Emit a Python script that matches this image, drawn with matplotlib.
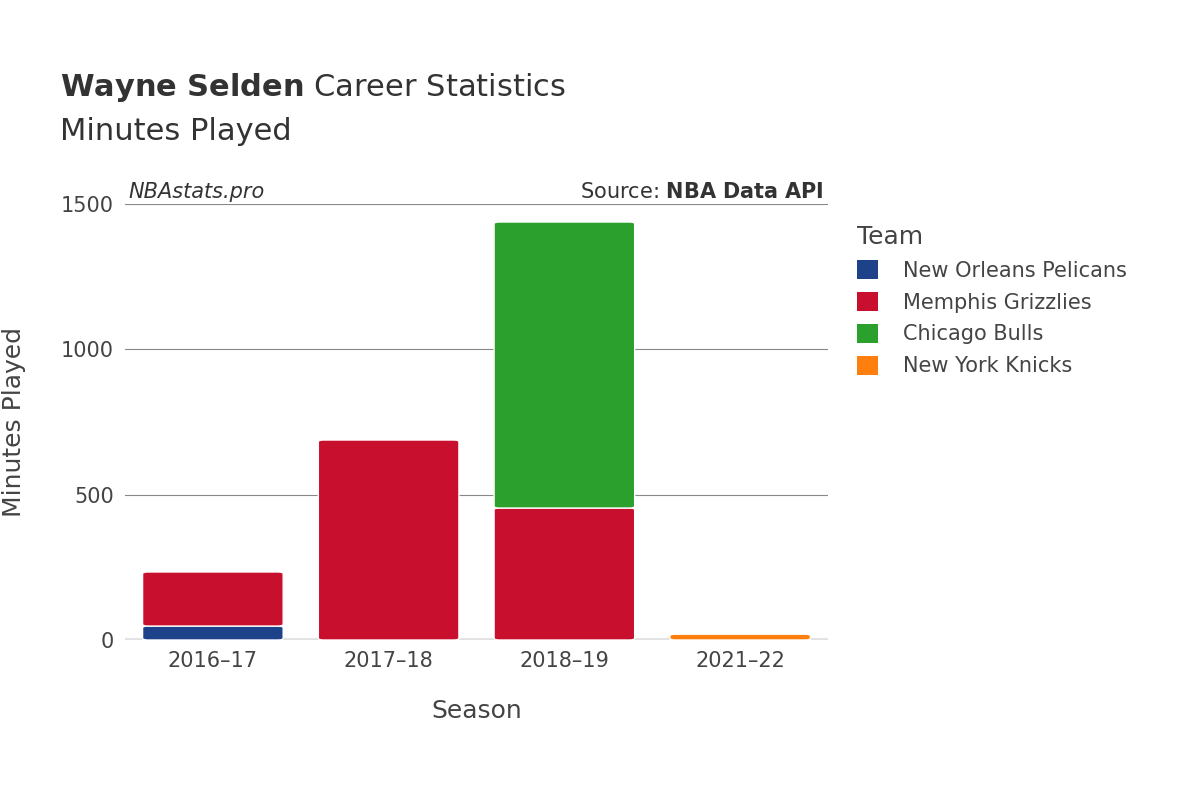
import matplotlib
matplotlib.use("Agg")
import matplotlib.pyplot as plt
from matplotlib.patches import FancyBboxPatch
import numpy as np

seasons = ["2016–17", "2017–18", "2018–19", "2021–22"]
teams = ["New Orleans Pelicans", "Memphis Grizzlies", "Chicago Bulls", "New York Knicks"]
colors = ["#1d428a", "#c8102e", "#2ca02c", "#ff7f0e"]
pelicans = [48, 0, 0, 0]
grizzlies = [186, 688, 454, 0]
bulls = [0, 0, 984, 0]
knicks = [0, 0, 0, 20]
series = [pelicans, grizzlies, bulls, knicks]

fig = plt.figure(figsize=(12, 8), dpi=100)
ax = fig.add_axes([125/1200, 1-640/800, 703/1200, 436/800])
x = np.arange(len(seasons))
bottom = np.zeros(len(seasons))
for name, vals, c in zip(teams, series, colors):
    v = np.array(vals, dtype=float)
    for i in range(len(seasons)):
        if v[i] > 0:
            ax.add_patch(FancyBboxPatch((x[i]-0.4, bottom[i]), 0.8, v[i],
                         boxstyle="round,pad=0,rounding_size=0.03",
                         mutation_aspect=200, fc=c, ec="white", lw=1))
    ax.bar(x, 0, color=c, label=name)
    bottom += v
ax.set_xlim(-0.5, 3.5)
ax.set_ylim(0, 1500)
ax.set_yticks([0, 500, 1000, 1500])
ax.set_xticks(x)
ax.set_xticklabels(seasons)
ax.tick_params(length=0, labelsize=15, colors="#444444", pad=8)
ax.grid(axis="y", color="#888888", lw=0.8)
ax.set_axisbelow(True)
for s in ax.spines.values():
    s.set_visible(False)
ax.axhline(0, color="#e6e6e6", lw=3, zorder=0)
ax.set_xlabel("Season", fontsize=18, color="#444444", labelpad=20)
ax.set_ylabel("Minutes Played", fontsize=18, color="#444444", labelpad=25)
fig.text(60/1200, 1-88/800, r"$\bf{Wayne\ Selden}$ Career Statistics", fontsize=22, color="#333333", va="center")
fig.text(60/1200, 1-132/800, "Minutes Played", fontsize=22, color="#333333", va="center")
fig.text(128/1200, 1-192/800, "NBAstats.pro", fontsize=15, style="italic", color="#333333", va="center")
fig.text(824/1200, 1-192/800, r"Source: $\bf{NBA\ Data\ API}$", fontsize=15, color="#333333", va="center", ha="right")
leg = fig.legend(loc="upper left", bbox_to_anchor=(838/1200, 1-206/800), frameon=False,
                 fontsize=15, title="Team", title_fontsize=18, labelcolor="#444444",
                 handlelength=1, handleheight=1, labelspacing=0.55, handletextpad=1.2)
leg.get_title().set_color("#444444")
leg._legend_box.align = "left"
fig.savefig("out.png", dpi=100)
